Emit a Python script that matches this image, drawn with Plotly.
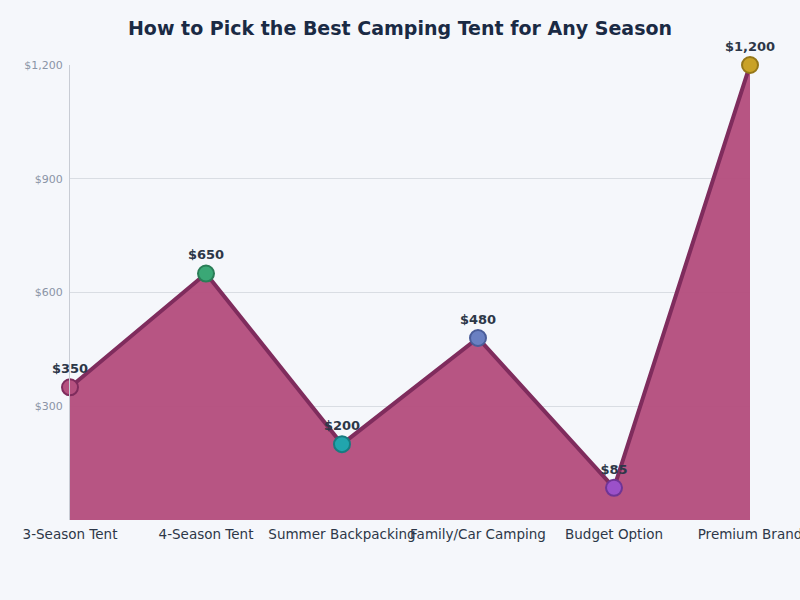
import plotly.graph_objects as go

categories = ["3-Season Tent", "4-Season Tent", "Summer Backpacking", "Family/Car Camping", "Budget Option", "Premium Brand"]
prices = [350, 650, 200, 480, 85, 1200]
labels = ["$350", "$650", "$200", "$480", "$85", "$1,200"]
marker_colors = ["#b5507f", "#3aa876", "#21a5ad", "#6a80c2", "#9b51c9", "#c9a227"]
marker_lines = ["#7f2c5d", "#2a7d57", "#177b80", "#4a5d99", "#6f3495", "#957719"]
ytick_vals = [300, 600, 900, 1200]
ytick_text = ["$300", "$600", "$900", "$1,200"]

fig = go.Figure()
fig.add_trace(go.Scatter(
    x=categories, y=prices, mode="lines+markers+text",
    fill="tozeroy", fillcolor="rgba(181,80,127,0.97)",
    line=dict(color="#7f2c5d", width=4),
    marker=dict(size=16, color=marker_colors, line=dict(color=marker_lines, width=2)),
    text=labels, textposition="top center",
    textfont=dict(family="DejaVu Sans", size=13, color="#2d3748", weight="bold"),
    cliponaxis=False, showlegend=False, hoverinfo="skip",
))

fig.update_layout(
    width=800, height=600,
    paper_bgcolor="#f5f7fb", plot_bgcolor="#f5f7fb",
    margin=dict(l=70, r=50, t=65, b=80, autoexpand=False),
    font=dict(family="DejaVu Sans"),
    title=dict(text="<b>How to Pick the Best Camping Tent for Any Season</b>",
               x=0.5, xanchor="center", y=0.953, yanchor="middle",
               font=dict(size=19, color="#1a2a44")),
    xaxis=dict(range=[0, 5], showgrid=False, zeroline=False, showline=False,
               tickangle=0, automargin=False,
               tickfont=dict(size=13.5, color="#2d3748"),
               ticks="outside", ticklen=2, tickcolor="rgba(0,0,0,0)"),
    yaxis=dict(range=[0, 1200], tickvals=ytick_vals, ticktext=ytick_text,
               showgrid=True, gridcolor="#d9dde3", zeroline=False,
               showline=True, linecolor="#c8ccd4", linewidth=1, automargin=False,
               tickfont=dict(size=11, color="#8a94a6"),
               ticks="outside", ticklen=4, tickcolor="rgba(0,0,0,0)"),
)

fig.write_html("out.html")
